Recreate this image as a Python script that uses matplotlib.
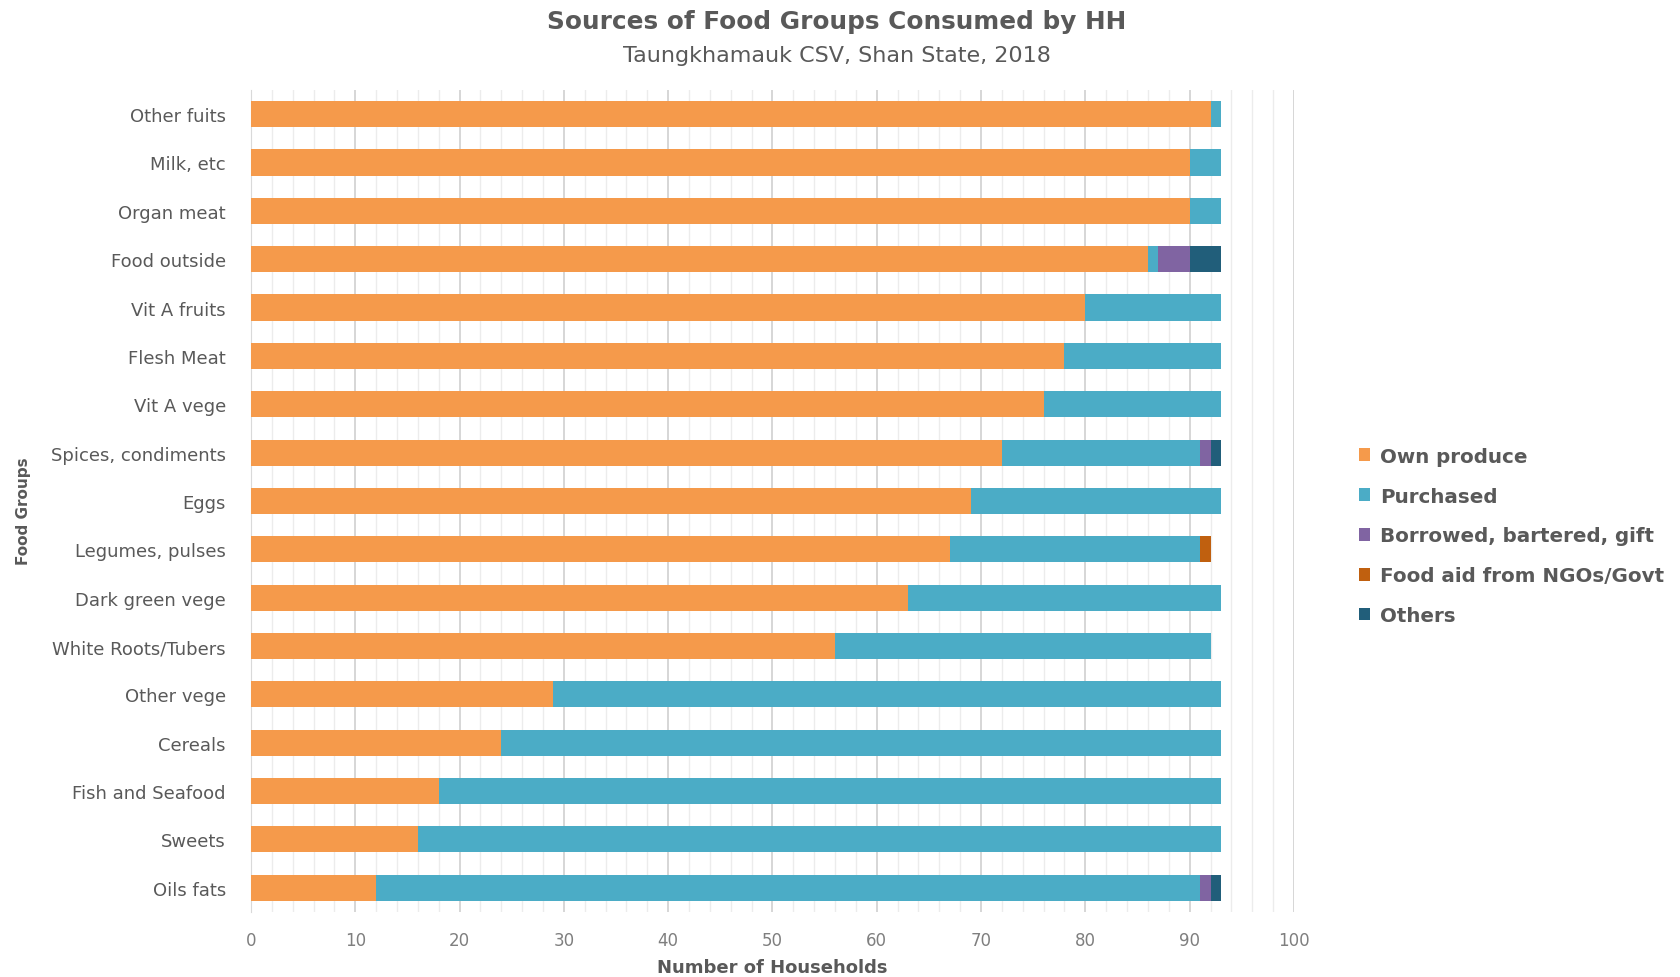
import matplotlib.pyplot as plt
import numpy as np

plt.rcParams['font.family'] = ['DejaVu Sans']

groups = ['Other fuits', 'Milk, etc', 'Organ meat', 'Food outside', 'Vit A fruits',
          'Flesh Meat', 'Vit A vege', 'Spices, condiments', 'Eggs', 'Legumes, pulses',
          'Dark green vege', 'White Roots/Tubers', 'Other vege', 'Cereals',
          'Fish and Seafood', 'Sweets', 'Oils fats']
own_produce = [92, 90, 90, 86, 80, 78, 76, 72, 69, 67, 63, 56, 29, 24, 18, 16, 12]
purchased = [1, 3, 3, 1, 13, 15, 17, 19, 24, 24, 30, 36, 64, 69, 75, 77, 79]
borrowed = [0, 0, 0, 3, 0, 0, 0, 1, 0, 0, 0, 0, 0, 0, 0, 0, 1]
food_aid = [0, 0, 0, 0, 0, 0, 0, 0, 0, 1, 0, 0, 0, 0, 0, 0, 0]
others = [0, 0, 0, 3, 0, 0, 0, 1, 0, 0, 0, 0, 0, 0, 0, 0, 1]

series = [
    ('Own produce', own_produce, '#F59A4B'),
    ('Purchased', purchased, '#4BACC6'),
    ('Borrowed, bartered, gift', borrowed, '#8064A2'),
    ('Food aid from NGOs/Govt', food_aid, '#C0600F'),
    ('Others', others, '#215E7A'),
]

fig = plt.figure(figsize=(16.8, 9.78), dpi=100)
ax = fig.add_axes([0.1494, 0.0665, 0.6208, 0.8405])

y = np.arange(len(groups))
left = np.zeros(len(groups))
for name, vals, color in series:
    vals = np.array(vals, dtype=float)
    ax.barh(y, vals, left=left, height=0.54, color=color, label=name, zorder=3)
    left += vals

ax.set_xlim(0, 100)
ax.set_ylim(len(groups) - 0.5, -0.5)
ax.set_yticks(y)
ax.set_yticklabels(groups)
ax.set_xticks(np.arange(0, 101, 10))
ax.set_xticks(np.arange(0, 101, 2), minor=True)

ax.grid(axis='x', which='major', color='#D0D0D0', linewidth=1.2, zorder=0)
ax.grid(axis='x', which='minor', color='#ECECEC', linewidth=1.0, zorder=0)
ax.tick_params(axis='x', which='both', length=0, pad=14, labelsize=12, labelcolor='#7F7F7F')
ax.tick_params(axis='y', length=0, pad=18, labelsize=13, labelcolor='#595959')

for s in ['top', 'right', 'bottom']:
    ax.spines[s].set_visible(False)
ax.spines['left'].set_color('#D9D9D9')

ax.set_xlabel('Number of Households', fontsize=13, fontweight='bold', color='#595959', labelpad=6)
fig.text(0.014, 0.4775, 'Food Groups', rotation=90, ha='center', va='center',
         fontsize=11, fontweight='bold', color='#595959')

fig.text(0.498, 0.977, 'Sources of Food Groups Consumed by HH', ha='center', va='center',
         fontsize=17.8, fontweight='bold', color='#595959')
fig.text(0.498, 0.943, 'Taungkhamauk CSV, Shan State, 2018', ha='center', va='center',
         fontsize=16, color='#595959')

fig.legend(loc='center left', bbox_to_anchor=(0.798, 0.451), frameon=False,
           prop={'size': 14.3, 'weight': 'bold'}, labelcolor='#595959',
           handlelength=0.6, handleheight=0.6, handletextpad=0.5, labelspacing=1.05)

fig.savefig('out.png', dpi=100)
